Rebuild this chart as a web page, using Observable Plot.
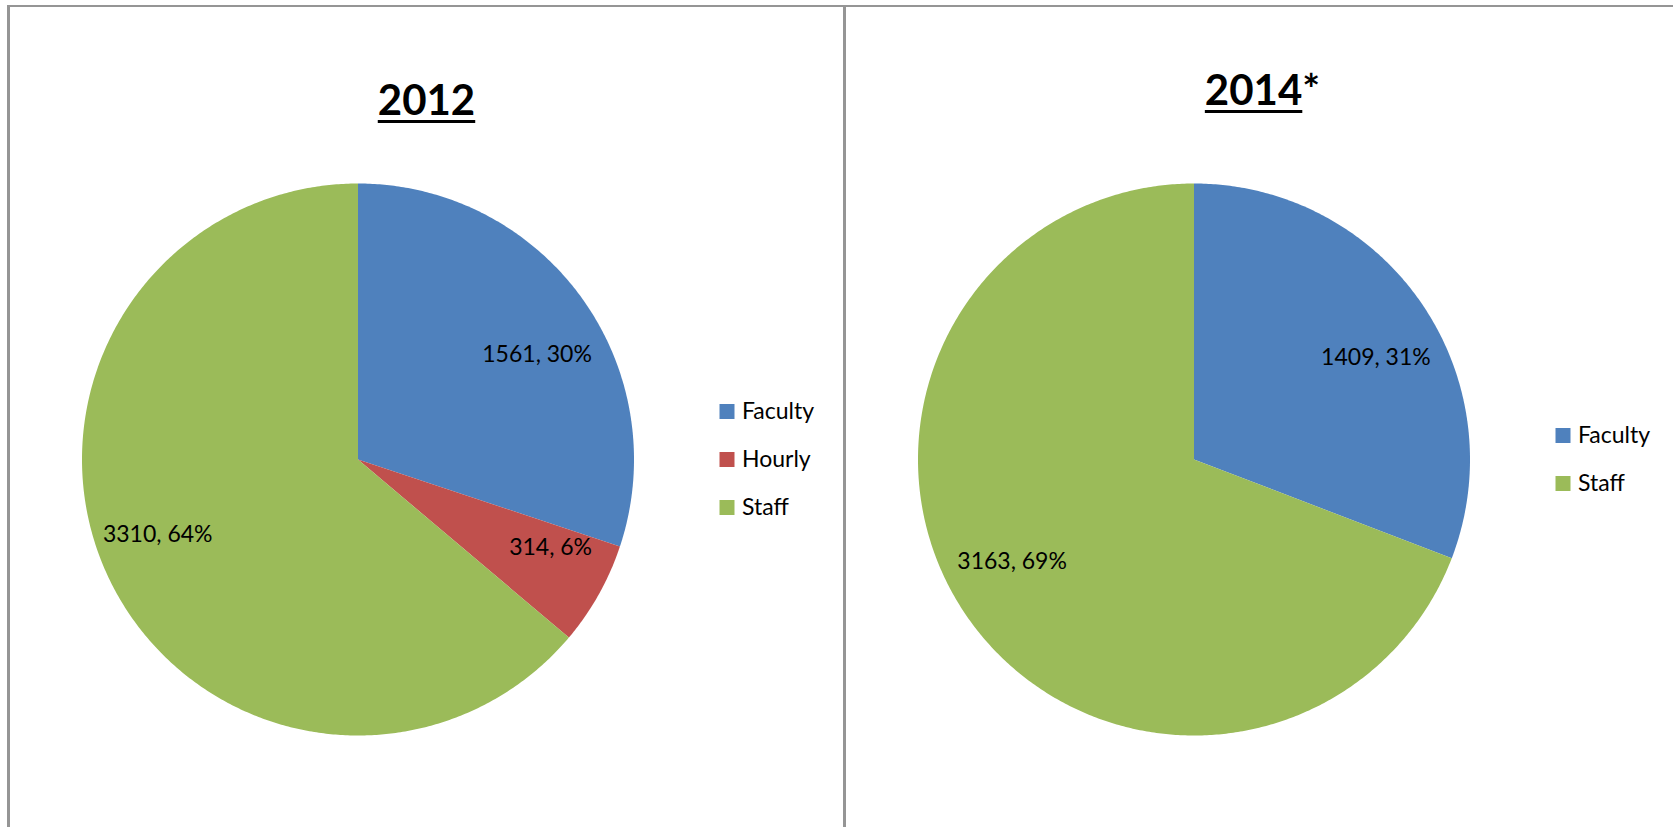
<!DOCTYPE html>
<html><head><meta charset="utf-8">
<script src="https://cdn.jsdelivr.net/npm/d3@7"></script>
<script src="https://cdn.jsdelivr.net/npm/@observablehq/plot@0.6"></script>
<style>
html,body{margin:0;padding:0;background:#fff;overflow:hidden;width:1673px;height:827px;}
#wrap{position:absolute;left:0;top:0;width:1673px;height:827px;overflow:hidden;background:#fff;}
.panel{position:absolute;top:5px;width:833px;height:822px;border-top:2px solid #959595;border-left:3px solid #959595;}
.panel svg{position:absolute;left:0;top:0;}
.title{position:absolute;left:0;width:100%;text-align:center;font-family:Lato;font-weight:bold;font-size:42px;line-height:42px;color:#000;z-index:2;}
.title u{text-decoration-thickness:3px;text-underline-offset:5px;}
</style></head>
<body><div id="wrap"></div>
<script>
// ---- data ----
const categories = ["Faculty", "Hourly", "Staff"];
const colors = ["#4F81BD", "#C0504D", "#9BBB59"];
const years = ["2012", "2014"];
const yearSuffix = ["", "*"];
const categories2012 = ["Faculty", "Hourly", "Staff"];
const values2012 = [1561, 314, 3310];
const percents2012 = [30, 6, 64];
const categories2014 = ["Faculty", "Staff"];
const values2014 = [1409, 3163];
const percents2014 = [31, 69];

// ---- layout ----
const W = 833, H = 820, CX = 347.5, CY = 452, R = 276;
const LEG_X = 369 / R, LEG_STEP = 48 / R;
const panelLeft = [7, 843];
const titleTop = [70.5, 60.5];

function pieChart(cats, vals, pcts) {
  const total = d3.sum(vals);
  const pts = [];
  const labels = [];
  let acc = 0;
  cats.forEach((c, i) => {
    const a0 = acc / total * 2 * Math.PI;
    const a1 = (acc + vals[i]) / total * 2 * Math.PI;
    acc += vals[i];
    const n = Math.max(2, Math.ceil((a1 - a0) / (Math.PI / 360)));
    pts.push({cat: c, x: 0, y: 0});
    for (let k = 0; k <= n; k++) {
      const a = a0 + (a1 - a0) * k / n;
      pts.push({cat: c, x: Math.sin(a), y: Math.cos(a)});
    }
    const am = (a0 + a1) / 2;
    labels.push({cat: c, x: 0.8 * Math.sin(am), y: 0.65 * Math.cos(am), text: `${vals[i]}, ${pcts[i]}%`});
  });
  const leg = cats.map((c, i) => ({cat: c, y: ((cats.length - 1) / 2 - i) * LEG_STEP}));
  return Plot.plot({
    width: W, height: H, margin: 0,
    x: {domain: [-1, 1], range: [CX - R, CX + R], axis: null},
    y: {domain: [-1, 1], range: [CY + R, CY - R], axis: null},
    color: {domain: categories, range: colors},
    style: {fontFamily: "Lato", fontSize: "23px", color: "#000", background: "#fff"},
    marks: [
      Plot.line(pts, {x: "x", y: "y", z: "cat", fill: "cat", stroke: "none"}),
      Plot.text(labels, {x: "x", y: "y", text: "text", fill: "#000", fontSize: 23}),
      Plot.dot(leg, {x: () => LEG_X, y: "y", symbol: "square", r: Math.sqrt(225 / Math.PI), fill: "cat", stroke: "none"}),
      Plot.text(leg, {x: () => LEG_X, y: "y", text: "cat", dx: 15, textAnchor: "start", fill: "#000", fontSize: 23})
    ]
  });
}

const wrap = document.getElementById("wrap");
const sets = [
  [categories2012, values2012, percents2012],
  [categories2014, values2014, percents2014]
];
sets.forEach((s, i) => {
  const panel = document.createElement("div");
  panel.className = "panel";
  panel.style.left = panelLeft[i] + "px";
  panel.appendChild(pieChart(...s));
  const t = document.createElement("div");
  t.className = "title";
  t.style.top = titleTop[i] + "px";
  const u = document.createElement("u");
  u.textContent = years[i];
  t.appendChild(u);
  t.appendChild(document.createTextNode(yearSuffix[i]));
  panel.appendChild(t);
  wrap.appendChild(panel);
});
</script>
</body></html>
